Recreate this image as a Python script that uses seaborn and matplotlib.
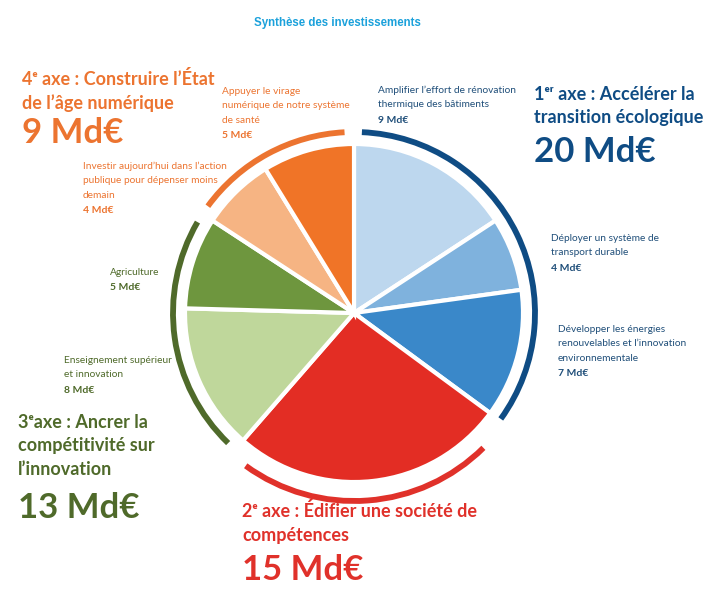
import matplotlib.pyplot as plt
import seaborn as sns
from matplotlib.patches import Arc

# sub-investments, clockwise from the top
sub_labels = ["Amplifier l’effort de rénovation\nthermique des bâtiments",
              "Déployer un système de\ntransport durable",
              "Développer les énergies\nrenouvelables et l’innovation\nenvironnementale",
              "Édifier une société de compétences",
              "Enseignement supérieur\net innovation",
              "Agriculture",
              "Investir aujourd’hui dans l’action\npublique pour dépenser moins\ndemain",
              "Appuyer le virage\nnumérique de notre système\nde santé"]
sub_values = [9, 4, 7, 15, 8, 5, 4, 5]
sub_colors = ["#BDD7EE", "#7FB2DD", "#3A88C9", "#E32D24",
              "#BFD79B", "#6E963E", "#F6B483", "#F07427"]

axis_titles = ["1ᵉʳ axe : Accélérer la\ntransition écologique",
               "2ᵉ axe : Édifier une société de\ncompétences",
               "3ᵉaxe : Ancrer la\ncompétitivité sur\nl’innovation",
               "4ᵉ axe : Construire l’État\nde l’âge numérique"]
axis_values = [20, 15, 13, 9]
axis_colors = ["#0F4C84", "#E0312A", "#4F6A2A", "#EC7430"]
axis_sub_colors = ["#1F4E79", "#E0312A", "#4F6A2A", "#EC7430"]

W, H = 716, 599
sns.set_theme(style="white")
plt.rcParams["font.family"] = ["Lato", "DejaVu Sans"]

fig = plt.figure(figsize=(W / 100, H / 100), dpi=100)
ax = fig.add_axes([0, 0, 1, 1])

cx, cy, r = 354, H - 313, 169
explode = [0, 0, 0, 0.025, 0, 0, 0, 0]
ax.pie(sub_values, colors=sub_colors, startangle=90, counterclock=False,
       center=(cx, cy), radius=r, explode=explode,
       wedgeprops=dict(edgecolor="white", linewidth=3))

# outer arcs, one per axis
total = sum(sub_values)
pads = [(2.5, 0.5), (9, 5), (3, 3), (3, 3)]
start = 90
for val, col, (p1, p2), i in zip(axis_values, axis_colors, pads, range(4)):
    span = val / total * 360
    end = start - span
    rr = 181 if i != 1 else 184
    ox, oy = cx, cy if i != 1 else cy - 4
    ax.add_patch(Arc((ox, oy), 2 * rr, 2 * rr, theta1=end + p2, theta2=start - p1,
                     color=col, lw=4.2))
    start = end

ax.set_xlim(0, W)
ax.set_ylim(0, H)
ax.set_aspect("equal")
ax.axis("off")


def put(x, y, text, color, size, spacing, weight="normal"):
    for k, line in enumerate(text.split("\n")):
        ax.text(x, H - (y + k * spacing), line, color=color, fontsize=size,
                fontweight=weight, va="baseline", ha="left")


ax.text(337, H - 26, "Synthèse des investissements", color="#1BA1DB", fontsize=8.3,
        fontweight="bold", ha="center", va="baseline",
        family=["Liberation Sans", "DejaVu Sans"])

# sub labels
sub_pos = [(378, 93, 0), (551, 241, 0), (558, 332, 0), None,
           (64, 363, 2), (110, 275, 2), (83, 169, 3), (222, 94, 3)]
for lab, val, pos in zip(sub_labels, sub_values, sub_pos):
    if pos is None:
        continue
    x, y, a = pos
    n = lab.count("\n") + 1
    sp = 14.3
    put(x, y, lab, axis_sub_colors[a], 7.3, sp)
    put(x, y + n * sp + 1, f"{val} Md€", axis_sub_colors[a], 7.5, sp, "bold")

# axis titles
axis_pos = [(534, 100, 162), (242, 517, 580), (18, 428, 518), (22, 85, 143)]
for t, v, c, (x, y, yb) in zip(axis_titles, axis_values, axis_colors, axis_pos):
    put(x, y, t, c, 13, 23.5, "bold")
    ax.text(x, H - yb, f"{v} Md€", color=c, fontsize=25, fontweight="bold",
            va="baseline", ha="left")

fig.savefig("out.png", dpi=100)
